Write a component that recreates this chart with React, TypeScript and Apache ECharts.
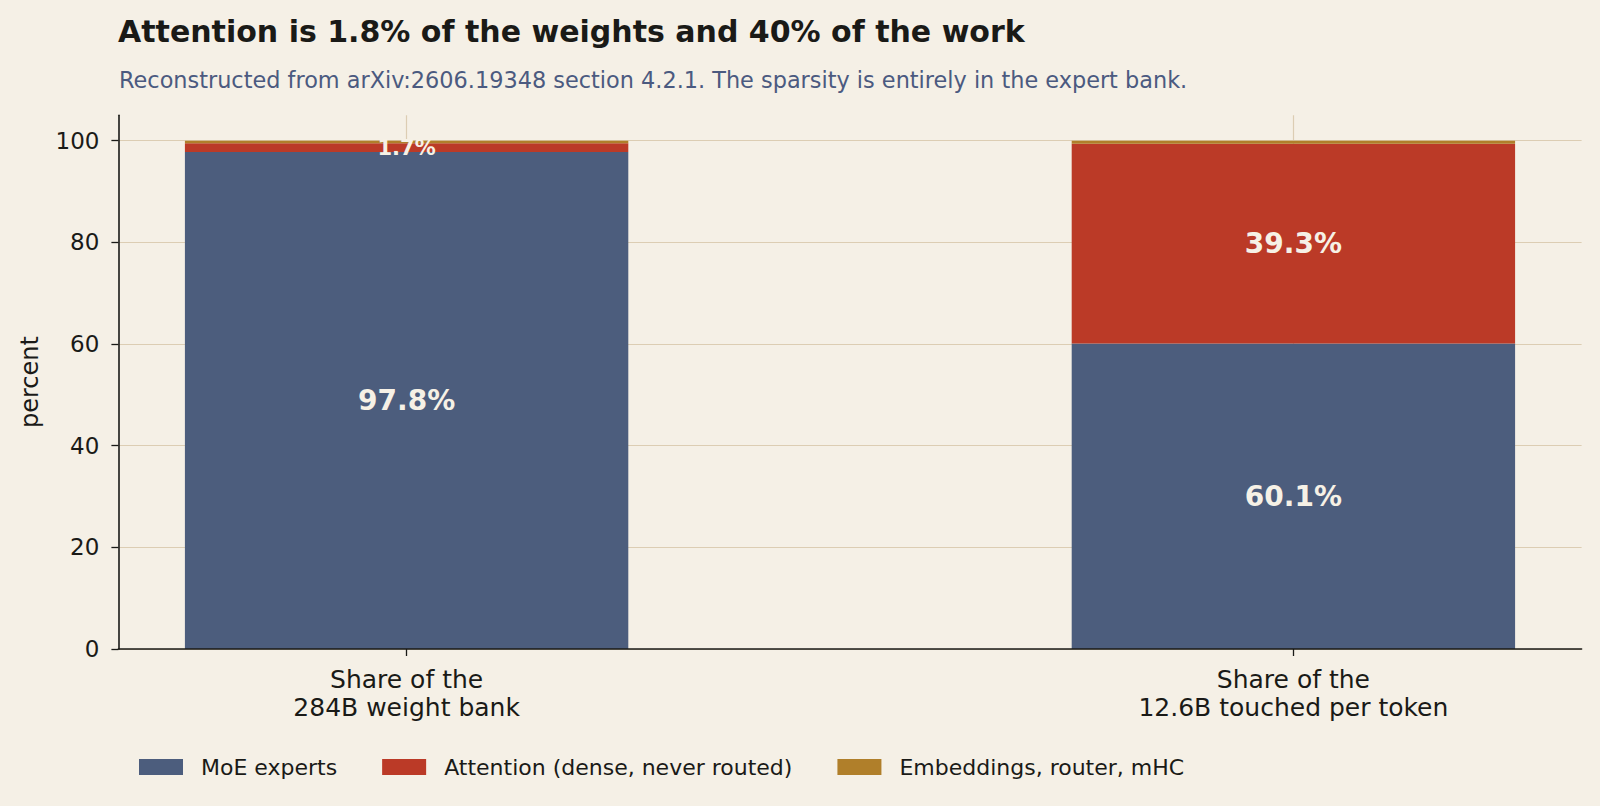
import React, { useEffect, useRef } from "react";
import * as echarts from "echarts";

const categories = ["Share of the\n284B weight bank", "Share of the\n12.6B touched per token"];
const categoryPositions = [0, 1];
const moeExperts = [97.8, 60.1];
const attention = [1.7, 39.3];
const embeddings = [0.5, 0.6];
const seriesNames = ["MoE experts", "Attention (dense, never routed)", "Embeddings, router, mHC"];
const yTicks = [0, 20, 40, 60, 80, 100];

const BG = "#f5f0e6";
const GRID = "#dccdb3";
const INK = "#1a1a17";
const FONT = "DejaVu Sans";

// plot frame (px)
const PLOT_LEFT = 118.4;
const PLOT_RIGHT = 1581.6;
const PLOT_TOP = 115.3;
const PLOT_BOTTOM = 649;
const X_MIN = -0.325;
const X_MAX = 1.325;
const Y_MAX = 105;

export default function App() {
  const ref = useRef<HTMLDivElement>(null);
  useEffect(() => {
    document.body.style.margin = "0";
    const chart = echarts.init(ref.current!, null, { renderer: "svg" });
    const pxPerUnit = (PLOT_RIGHT - PLOT_LEFT) / (X_MAX - X_MIN);
    // bar grid: category axis without boundary gap, first and last category on its edges
    const barGridLeft = PLOT_LEFT + (0 - X_MIN) * pxPerUnit;
    const barGridWidth = 1 * pxPerUnit;
    const barWidth = 0.5 * pxPerUnit;
    const labelBase = {
      show: true,
      position: "inside",
      formatter: (p: any) => `${p.value}%`,
      fontFamily: FONT,
      fontWeight: "bold",
      fontSize: 28,
      color: "#f6f1e6",
    };
    const option: any = {
      animation: false,
      backgroundColor: BG,
      textStyle: { fontFamily: FONT },
      title: [
        {
          text: "Attention is 1.8% of the weights and 40% of the work",
          left: 118,
          top: 16,
          padding: 0,
          textStyle: { fontFamily: FONT, fontWeight: "bold", fontSize: 30, color: INK },
        },
        {
          text: "Reconstructed from arXiv:2606.19348 section 4.2.1. The sparsity is entirely in the expert bank.",
          left: 119,
          top: 69,
          padding: 0,
          textStyle: { fontFamily: FONT, fontWeight: "normal", fontSize: 22.4, color: "#4b5a80" },
        },
      ],
      legend: {
        data: seriesNames,
        icon: "rect",
        itemWidth: 44,
        itemHeight: 16,
        itemGap: 45,
        left: 139,
        top: 756,
        padding: 0,
        textStyle: { fontFamily: FONT, fontSize: 22, color: INK, padding: [0, 0, 0, 13] },
      },
      grid: [
        {
          left: PLOT_LEFT,
          top: PLOT_TOP,
          width: PLOT_RIGHT - PLOT_LEFT,
          height: PLOT_BOTTOM - PLOT_TOP,
        },
        {
          left: barGridLeft,
          top: PLOT_TOP,
          width: barGridWidth,
          height: PLOT_BOTTOM - PLOT_TOP,
        },
      ],
      xAxis: [
        {
          type: "value",
          gridIndex: 0,
          min: X_MIN,
          max: X_MAX,
          axisLine: { show: true, onZero: false, lineStyle: { color: INK, width: 1.6 } },
          axisTick: { show: true, customValues: categoryPositions, length: 7, lineStyle: { color: INK, width: 1.3 } },
          axisLabel: {
            customValues: categoryPositions,
            formatter: (v: number) => categories[Math.round(v)] ?? "",
            fontFamily: FONT,
            fontSize: 25,
            color: INK,
            lineHeight: 28,
            margin: 16,
          },
          splitLine: { show: false },
          z: 5,
        },
        {
          type: "category",
          gridIndex: 1,
          data: categories,
          boundaryGap: false,
          show: false,
        },
      ],
      yAxis: [
        {
          type: "value",
          gridIndex: 0,
          min: 0,
          max: Y_MAX,
          name: "percent",
          nameLocation: "middle",
          nameGap: 76,
          nameTextStyle: { fontFamily: FONT, fontSize: 24, color: INK },
          axisLine: { show: true, onZero: false, lineStyle: { color: INK, width: 1.6 } },
          axisTick: { show: true, customValues: yTicks, length: 7, lineStyle: { color: INK, width: 1.3 } },
          axisLabel: { customValues: yTicks, fontFamily: FONT, fontSize: 23, color: INK, margin: 19 },
          splitLine: { show: false },
          z: 5,
        },
        {
          type: "value",
          gridIndex: 1,
          min: 0,
          max: Y_MAX,
          show: false,
          axisLine: { onZero: false },
          splitLine: { show: false },
        },
      ],
      series: [
        {
          type: "line",
          xAxisIndex: 0,
          yAxisIndex: 0,
          data: [],
          silent: true,
          z: 0,
          markLine: {
            silent: true,
            symbol: "none",
            animation: false,
            z: 1,
            label: { show: false },
            lineStyle: { color: GRID, width: 1.2, type: "solid" },
            emphasis: { disabled: true },
            data: [
              ...categoryPositions.map((x) => ({ xAxis: x })),
              ...yTicks.map((y) => ({ yAxis: y })),
            ],
          },
        },
        {
          name: seriesNames[0],
          type: "bar",
          xAxisIndex: 1,
          yAxisIndex: 1,
          stack: "total",
          barWidth,
          clip: false,
          data: moeExperts,
          itemStyle: { color: "#4c5d7d" },
          label: labelBase,
          z: 3,
        },
        {
          name: seriesNames[1],
          type: "bar",
          xAxisIndex: 1,
          yAxisIndex: 1,
          stack: "total",
          barWidth,
          clip: false,
          data: attention.map((v, i) => ({ value: v, label: { fontSize: i === 0 ? 21 : 28 } })),
          itemStyle: { color: "#bb3a27" },
          label: labelBase,
          z: 3,
        },
        {
          name: seriesNames[2],
          type: "bar",
          xAxisIndex: 1,
          yAxisIndex: 1,
          stack: "total",
          barWidth,
          clip: false,
          data: embeddings,
          itemStyle: { color: "#b07f2a" },
          z: 3,
        },
      ],
    };
    chart.setOption(option);
    return () => chart.dispose();
  }, []);
  return <div ref={ref} style={{ width: 1600, height: 806 }} />;
}
